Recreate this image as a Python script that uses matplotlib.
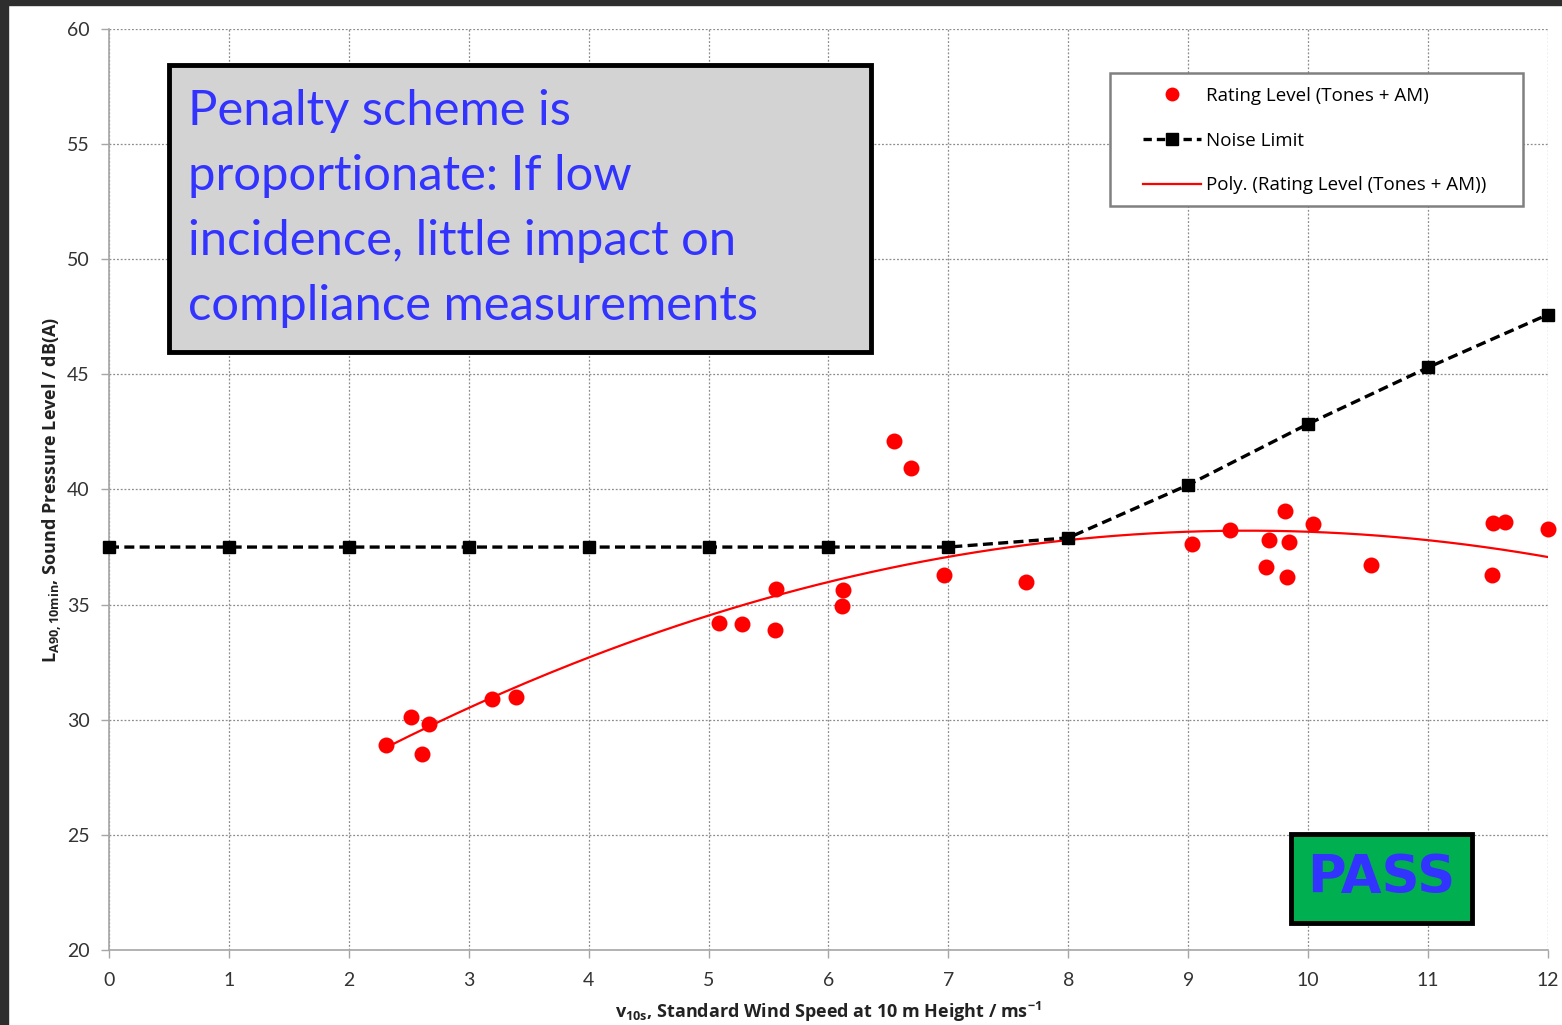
import numpy as np
import matplotlib
matplotlib.use("Agg")
import matplotlib.pyplot as plt
from matplotlib.patches import Rectangle
from matplotlib.lines import Line2D

# Rating level measurements (tones + AM penalties)
wind_speed = [2.31, 2.52, 2.61, 2.67, 3.19, 3.39, 5.09, 5.28, 5.55, 5.56,
              6.11, 6.12, 6.55, 6.69, 6.96, 7.65, 9.03, 9.35, 9.65, 9.67,
              9.81, 9.82, 9.84, 10.04, 10.52, 11.53, 11.54, 11.64, 12.0]
rating_level = [28.9, 30.1, 28.5, 29.8, 30.9, 31.0, 34.2, 34.15, 33.9, 35.7,
                34.95, 35.65, 42.1, 40.95, 36.3, 36.0, 37.65, 38.25, 36.65, 37.8,
                39.05, 36.2, 37.7, 38.5, 36.7, 36.3, 38.55, 38.6, 38.3]

# Noise limit curve
limit_speed = [0, 1, 2, 3, 4, 5, 6, 7, 8, 9, 10, 11, 12]
limit_level = [37.5, 37.5, 37.5, 37.5, 37.5, 37.5, 37.5, 37.5, 37.9, 40.2, 42.85, 45.3, 47.6]

x_ticks = list(range(0, 13))
y_ticks = [20, 25, 30, 35, 40, 45, 50, 55, 60]

note_text = "Penalty scheme is\nproportionate: If low\nincidence, little impact on\ncompliance measurements"

W, H = 1562, 1025
fig = plt.figure(figsize=(W / 100, H / 100), dpi=100, facecolor="white")
ax = fig.add_axes([109 / W, 1 - 950 / H, (1548 - 109) / W, (950 - 29) / H])

# dark screen border along top and left
fig.add_artist(Rectangle((0, 1 - 5 / H), 1, 5 / H, transform=fig.transFigure,
                         color="#2e2e2e", zorder=10))
fig.add_artist(Rectangle((0, 0), 8 / W, 1, transform=fig.transFigure,
                         color="#2e2e2e", zorder=10))

tick_font = "Lato"
label_font = "Open Sans"

# polynomial trend line through the rating levels
coef = np.polyfit(wind_speed, rating_level, 2)
xs = np.linspace(min(wind_speed), max(wind_speed), 200)
ax.plot(xs, np.polyval(coef, xs), color="#ff0000", lw=1.6, zorder=3)

ax.plot(limit_speed, limit_level, color="black", lw=2.4, ls=(0, (3, 1.6)),
        marker="s", markersize=8, zorder=4, clip_on=False)
ax.plot(wind_speed, rating_level, "o", color="#ff0000", markersize=11.5,
        markeredgewidth=0, zorder=5, clip_on=False)

ax.set_xlim(0, 12)
ax.set_ylim(20, 60)
ax.set_xticks(x_ticks)
ax.set_yticks(y_ticks)
ax.grid(True, color="#8c8c8c", ls=(0, (1.5, 1.5)), lw=0.9, zorder=0)
for s in ["top", "right"]:
    ax.spines[s].set_visible(False)
for s in ["left", "bottom"]:
    ax.spines[s].set_color("#a6a6a6")
    ax.spines[s].set_linewidth(1.2)
ax.tick_params(direction="out", length=6, color="#a6a6a6", width=1,
               labelsize=14, labelcolor="#333333")
ax.tick_params(axis="x", pad=10)
ax.tick_params(axis="y", pad=8)
for lab in ax.get_xticklabels() + ax.get_yticklabels():
    lab.set_fontfamily(tick_font)

ax.set_xlabel(r"v$\mathregular{_{10s}}$, Standard Wind Speed at 10 m Height / ms$\mathregular{^{-1}}$",
              fontsize=13, fontweight="bold", family=label_font, color="#222222",
              labelpad=8)
ax.set_ylabel(r"L$\mathregular{_{A90,10min}}$, Sound Pressure Level / dB(A)",
              fontsize=13, fontweight="bold", family=label_font, color="#222222",
              labelpad=2)

# annotation box
fig.add_artist(Rectangle((169 / W, 1 - 352 / H), (871 - 169) / W, (352 - 65) / H,
                         transform=fig.transFigure, facecolor="#d3d3d3",
                         edgecolor="black", lw=3.5, zorder=6))
fig.text(188 / W, 1 - 89 / H, note_text, ha="left", va="top", fontsize=35.3,
         family=tick_font, color="#3333ff", linespacing=1.58, zorder=7)

# PASS badge
fig.add_artist(Rectangle((1291 / W, 1 - 923 / H), (1472 - 1291) / W, (923 - 834) / H,
                         transform=fig.transFigure, facecolor="#00b050",
                         edgecolor="black", lw=3.5, zorder=6))
fig.text((1291 + 1472) / 2 / W, 1 - 878 / H, "PASS", ha="center", va="center",
         fontsize=38, fontweight="bold", family="DejaVu Sans", color="#3333ff",
         zorder=7)

# legend frame drawn separately so the side padding can be wider than the top
fig.add_artist(Rectangle((1110 / W, 1 - 206 / H), (1523 - 1110) / W, (206 - 73) / H,
                         transform=fig.transFigure, facecolor="white",
                         edgecolor="#808080", lw=1.8, zorder=7))
handles = [
    Line2D([0], [0], marker="o", color="#ff0000", ls="none", markersize=10,
           markeredgewidth=0, label="Rating Level (Tones + AM)"),
    Line2D([0], [0], marker="s", color="black", ls=(0, (2.5, 1.5)), lw=2.4,
           markersize=8, label="Noise Limit"),
    Line2D([0], [0], color="#ff0000", lw=1.6, label="Poly. (Rating Level (Tones + AM))"),
]
leg = fig.legend(handles=handles, loc="upper left", bbox_to_anchor=(1143 / W, 1 - 87 / H),
                 bbox_transform=fig.transFigure, frameon=False,
                 prop={"family": label_font, "size": 13.5},
                 handlelength=3.1, handletextpad=0.25, labelspacing=1.42,
                 borderpad=0, borderaxespad=0)
leg.set_zorder(8)

fig.savefig("out.png", dpi=100, facecolor="white")
